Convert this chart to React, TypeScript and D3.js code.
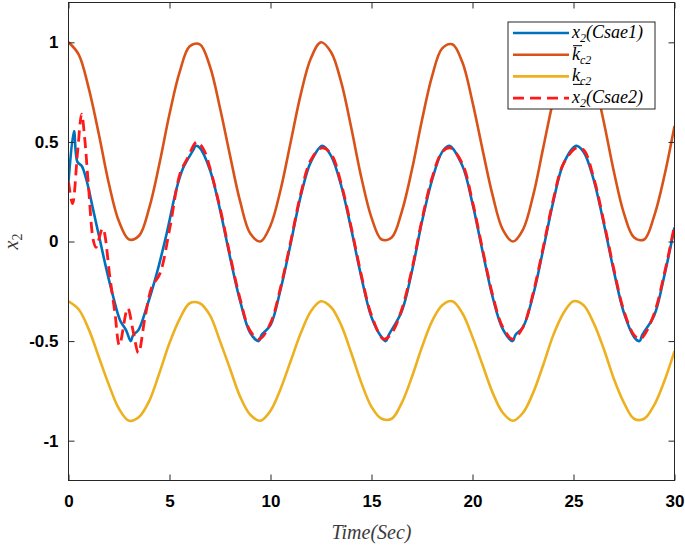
import React, { useRef, useEffect } from "react";
import * as d3 from "d3";

// time grid (s) used for the smooth bound curves
const tGrid = [
  0, 0.5, 1, 1.5, 2, 2.5, 3, 3.5, 4, 4.5, 5, 5.5, 6, 6.5, 7, 7.5, 8, 8.5, 9, 9.5,
  10, 10.5, 11, 11.5, 12, 12.5, 13, 13.5, 14, 14.5, 15, 15.5, 16, 16.5, 17, 17.5,
  18, 18.5, 19, 19.5, 20, 20.5, 21, 21.5, 22, 22.5, 23, 23.5, 24, 24.5, 25, 25.5,
  26, 26.5, 27, 27.5, 28, 28.5, 29, 29.5, 30,
];

const kUpper = [
  1.0, 0.94, 0.77, 0.54, 0.29, 0.1, 0.01, 0.03, 0.17, 0.39, 0.64, 0.85, 0.98, 0.99,
  0.88, 0.67, 0.43, 0.2, 0.04, 0.0, 0.08, 0.26, 0.5, 0.74, 0.92, 1.0, 0.95, 0.8,
  0.57, 0.32, 0.12, 0.01, 0.02, 0.15, 0.36, 0.61, 0.83, 0.97, 0.99, 0.9, 0.7, 0.46,
  0.23, 0.06, 0.0, 0.06, 0.23, 0.47, 0.71, 0.9, 1.0, 0.97, 0.82, 0.6, 0.35, 0.14,
  0.02, 0.01, 0.13, 0.33, 0.58,
];

const kLower = [
  -0.3, -0.34, -0.44, -0.58, -0.72, -0.84, -0.9, -0.88, -0.8, -0.66, -0.51, -0.39,
  -0.31, -0.31, -0.37, -0.5, -0.64, -0.78, -0.87, -0.9, -0.85, -0.74, -0.6, -0.46,
  -0.35, -0.3, -0.33, -0.42, -0.56, -0.71, -0.83, -0.89, -0.89, -0.81, -0.68,
  -0.53, -0.4, -0.32, -0.3, -0.36, -0.48, -0.62, -0.76, -0.86, -0.9, -0.86, -0.76,
  -0.62, -0.47, -0.36, -0.3, -0.32, -0.41, -0.54, -0.69, -0.81, -0.89, -0.89,
  -0.82, -0.7, -0.55,
];

// x2 (Csae1)
const tCsae1 = [
  0, 0.27, 0.44, 0.65, 0.9, 1.23, 1.56, 1.89, 2.22, 2.55, 2.85, 3.08, 3.2, 3.46,
  3.87, 4.37, 4.86, 5.36, 5.68, 6.18, 6.3, 6.5, 7, 7.5, 8, 8.5, 9, 9.42, 9.55, 10,
  10.5, 11, 11.5, 12, 12.57, 13, 13.5, 14, 14.5, 15, 15.5, 15.71, 15.85, 16.5, 17,
  17.5, 18, 18.5, 18.85, 19.5, 20, 20.5, 21, 21.5, 21.99, 22.12, 22.5, 23, 23.5,
  24, 24.5, 25.13, 25.5, 26, 26.5, 27, 27.5, 28, 28.27, 28.4, 29, 29.5, 30,
];
const xCsae1 = [
  0.3, 0.555, 0.4, 0.38, 0.305, 0.155, 0.005, -0.145, -0.28, -0.395, -0.445, -0.5,
  -0.47, -0.445, -0.33, -0.16, 0.04, 0.27, 0.37, 0.46, 0.48, 0.47, 0.36, 0.16,
  -0.08, -0.3, -0.46, -0.5, -0.47, -0.42, -0.24, -0.01, 0.23, 0.4, 0.48, 0.43,
  0.28, 0.06, -0.18, -0.38, -0.48, -0.5, -0.47, -0.35, -0.15, 0.1, 0.31, 0.45,
  0.48, 0.38, 0.19, -0.05, -0.28, -0.44, -0.5, -0.47, -0.43, -0.27, -0.04, 0.2,
  0.39, 0.48, 0.45, 0.31, 0.09, -0.15, -0.36, -0.48, -0.5, -0.47, -0.37, -0.17,
  0.07,
];

// x2 (Csae2)
const tCsae2 = [
  0, 0.2, 0.45, 0.65, 0.8, 0.98, 1.23, 1.36, 1.69, 2.05, 2.3, 2.52, 2.93, 3.2, 3.46,
  3.79, 4.12, 4.53, 5.02, 5.52, 5.9, 6.35, 6.7, 7, 7.5, 8, 8.5, 9, 9.45, 10, 10.5,
  11, 11.5, 12, 12.55, 13, 13.5, 14, 14.5, 15, 15.6, 16, 16.5, 17, 17.5, 18, 18.5,
  18.9, 19.5, 20, 20.5, 21, 21.5, 22, 22.5, 23, 23.5, 24, 24.5, 25.15, 25.5, 26,
  26.5, 27, 27.5, 28, 28.3, 28.5, 29, 29.5, 30,
];
const xCsae2 = [
  0.3, 0.19, 0.45, 0.64, 0.52, 0.29, 0.005, -0.03, 0.065, -0.18, -0.36, -0.52,
  -0.335, -0.45, -0.56, -0.38, -0.23, -0.16, 0.07, 0.34, 0.42, 0.5, 0.46, 0.37,
  0.17, -0.07, -0.29, -0.45, -0.49, -0.41, -0.23, 0.0, 0.24, 0.41, 0.47, 0.44,
  0.29, 0.07, -0.17, -0.37, -0.49, -0.46, -0.34, -0.14, 0.11, 0.32, 0.45, 0.47,
  0.39, 0.2, -0.04, -0.27, -0.43, -0.49, -0.43, -0.26, -0.03, 0.21, 0.39, 0.47,
  0.46, 0.32, 0.1, -0.14, -0.35, -0.47, -0.49, -0.47, -0.36, -0.16, 0.08,
];

const xTicks = [0, 5, 10, 15, 20, 25, 30];
const yTicks = [-1, -0.5, 0, 0.5, 1];

const BLUE = "#0072BD";
const ORANGE = "#D95319";
const YELLOW = "#EDB120";
const RED = "#FF1A1A";

export default function App() {
  const svgRef = useRef<SVGSVGElement>(null);

  useEffect(() => {
    if (!svgRef.current) return;
    const svg = d3.select(svgRef.current);
    svg.selectAll("*").remove();

    const width = 685;
    const height = 547;
    const margin = { top: 2.5, right: 10.5, bottom: 66.5, left: 68.5 };
    const w = width - margin.left - margin.right;
    const h = height - margin.top - margin.bottom;

    svg.attr("width", width).attr("height", height);
    svg.append("rect").attr("width", width).attr("height", height).attr("fill", "#fff");

    const g = svg.append("g").attr("transform", `translate(${margin.left},${margin.top})`);

    const x = d3.scaleLinear().domain([0, 30]).range([0, w]);
    const y = d3.scaleLinear().domain([-1.2, 1.2]).range([h, 0]);

    const clip = g.append("clipPath").attr("id", "plot-clip");
    clip.append("rect").attr("width", w).attr("height", h);

    const plot = g.append("g").attr("clip-path", "url(#plot-clip)");

    const series = [
      { t: tGrid, v: kUpper, color: ORANGE, dash: null as string | null },
      { t: tGrid, v: kLower, color: YELLOW, dash: null },
      { t: tCsae1, v: xCsae1, color: BLUE, dash: null },
      { t: tCsae2, v: xCsae2, color: RED, dash: "11,6" },
    ];

    series.forEach((s) => {
      const pts = s.t.map((t, i) => [t, s.v[i]] as [number, number]);
      const line = d3
        .line<[number, number]>()
        .x((d) => x(d[0]))
        .y((d) => y(d[1]))
        .curve(d3.curveCatmullRom.alpha(0.5));
      const p = plot
        .append("path")
        .datum(pts)
        .attr("fill", "none")
        .attr("stroke", s.color)
        .attr("stroke-width", 2.6)
        .attr("stroke-linejoin", "round")
        .attr("d", line);
      if (s.dash) p.attr("stroke-dasharray", s.dash).attr("stroke-width", 2.8);
    });

    // Axes box with inward ticks on all sides
    const axisColor = "#262626";
    const tickLen = 6;
    const tickStyle = (sel: d3.Selection<SVGGElement, unknown, null, undefined>) => {
      sel.select(".domain").remove();
      sel.selectAll(".tick line").attr("stroke", axisColor).attr("stroke-width", 1);
      sel
        .selectAll(".tick text")
        .attr("fill", "#000")
        .attr("font-size", "17px")
        .attr("font-weight", "bold")
        .attr("font-family", "'Liberation Sans', Arial, sans-serif");
    };

    g.append("g")
      .attr("transform", `translate(0,${h})`)
      .call(d3.axisBottom(x).tickValues(xTicks).tickSize(-tickLen).tickPadding(14).tickFormat(d3.format("d")))
      .call(tickStyle);
    g.append("g")
      .call(d3.axisTop(x).tickValues(xTicks).tickSize(-tickLen).tickFormat(() => ""))
      .call(tickStyle);
    g.append("g")
      .call(d3.axisLeft(y).tickValues(yTicks).tickSize(-tickLen).tickPadding(10).tickFormat((d) => String(d)))
      .call(tickStyle);
    g.append("g")
      .attr("transform", `translate(${w},0)`)
      .call(d3.axisRight(y).tickValues(yTicks).tickSize(-tickLen).tickFormat(() => ""))
      .call(tickStyle);

    g.append("rect")
      .attr("width", w)
      .attr("height", h)
      .attr("fill", "none")
      .attr("stroke", axisColor)
      .attr("stroke-width", 1);

    // Axis labels
    const mathFont = "'Liberation Serif', 'DejaVu Serif', serif";
    svg
      .append("text")
      .attr("x", margin.left + w / 2)
      .attr("y", 539)
      .attr("text-anchor", "middle")
      .attr("fill", "#3a3a3a")
      .attr("font-size", "20px")
      .attr("font-style", "italic")
      .attr("font-family", mathFont)
      .text("Time(Sec)");

    const yl = svg
      .append("text")
      .attr("transform", `translate(18,${margin.top + h / 2}) rotate(-90)`)
      .attr("text-anchor", "middle")
      .attr("fill", "#3a3a3a")
      .attr("font-size", "20px")
      .attr("font-style", "italic")
      .attr("font-family", mathFont);
    yl.append("tspan").text("x");
    yl.append("tspan").attr("font-size", "14px").attr("font-style", "normal").attr("dy", 4).text("2");

    // Legend
    const lg = svg.append("g").attr("transform", "translate(508,22)");
    lg.append("rect")
      .attr("width", 147)
      .attr("height", 87)
      .attr("fill", "#fff")
      .attr("stroke", "#262626")
      .attr("stroke-width", 1);

    const entries = [
      { color: BLUE, dash: null as string | null, base: "x", sub: "2", tail: "(Csae1)", deco: "" },
      { color: ORANGE, dash: null, base: "k", sub: "c2", tail: "", deco: "over" },
      { color: YELLOW, dash: null, base: "k", sub: "c2", tail: "", deco: "under" },
      { color: RED, dash: "11,6", base: "x", sub: "2", tail: "(Csae2)", deco: "" },
    ];
    entries.forEach((e, i) => {
      const cy = 11 + i * 21.7;
      const ln = lg
        .append("line")
        .attr("x1", 5)
        .attr("x2", 61)
        .attr("y1", cy)
        .attr("y2", cy)
        .attr("stroke", e.color)
        .attr("stroke-width", 2.6);
      if (e.dash) ln.attr("stroke-dasharray", e.dash);
      const txt = lg
        .append("text")
        .attr("x", 64)
        .attr("y", cy + 5)
        .attr("fill", "#000")
        .attr("font-size", "18px")
        .attr("font-style", "italic")
        .attr("font-family", mathFont);
      txt.append("tspan").text(e.base);
      txt.append("tspan").attr("font-size", "12px").attr("dy", 4).text(e.sub);
      if (e.tail) txt.append("tspan").attr("dy", -4).text(e.tail);
      if (e.deco) {
        const ly = e.deco === "over" ? cy - 9 : cy + 8;
        lg.append("line")
          .attr("x1", 65)
          .attr("x2", 74)
          .attr("y1", ly)
          .attr("y2", ly)
          .attr("stroke", "#000")
          .attr("stroke-width", 1);
      }
    });
  }, []);

  return (
    <svg
      ref={svgRef}
      style={{ position: "absolute", left: 0, top: 0, display: "block" }}
    />
  );
}
